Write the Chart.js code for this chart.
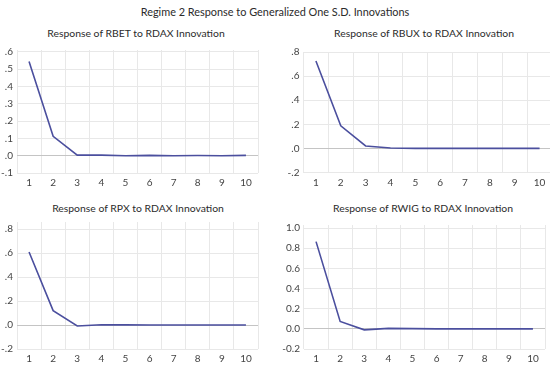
<!DOCTYPE html>
<html>
<head>
<meta charset="utf-8">
<script src="https://cdn.jsdelivr.net/npm/chart.js@4.4.0/dist/chart.umd.min.js"></script>
<style>
  body { margin: 0; background: #fff; width: 550px; height: 370px; overflow: hidden; position: relative; font-family: Lato, sans-serif; color: #2b2b2b; }
  .titulo { position: absolute; white-space: nowrap; transform: translate(-50%, -50%); }
  #mainTitle { left: 275px; top: 11px; font-size: 10.9px; }
  .sub { font-size: 10.4px; }
  .panel { position: absolute; }
</style>
</head>
<body>
<div id="mainTitle" class="titulo">Regime 2 Response to Generalized One S.D. Innovations</div>
<div class="titulo sub" style="left:136px; top:33px;">Response of RBET to RDAX Innovation</div>
<div class="titulo sub" style="left:424px; top:33px;">Response of RBUX to RDAX Innovation</div>
<div class="titulo sub" style="left:138px; top:208px;">Response of RPX to RDAX Innovation</div>
<div class="titulo sub" style="left:423px; top:208px;">Response of RWIG to RDAX Innovation</div>
<div class="panel" style="left:0; top:40px; width:275px; height:150px;"><canvas id="c1"></canvas></div>
<div class="panel" style="left:275px; top:40px; width:280px; height:150px;"><canvas id="c2"></canvas></div>
<div class="panel" style="left:0; top:212px; width:275px; height:154px;"><canvas id="c3"></canvas></div>
<div class="panel" style="left:275px; top:212px; width:275px; height:154px;"><canvas id="c4"></canvas></div>
<script>
// periodos
var periods = ['1', '2', '3', '4', '5', '6', '7', '8', '9', '10'];

// respuestas de cada mercado a la innovacion de RDAX
var rbet = [0.543, 0.112, 0.003, 0.003, 0.000, 0.002, 0.000, 0.001, 0.000, 0.002];
var rbux = [0.725, 0.188, 0.020, 0.003, 0.000, 0.000, 0.000, 0.000, 0.000, 0.000];
var rpx  = [0.610, 0.120, -0.008, 0.003, 0.001, 0.000, 0.000, 0.000, 0.000, 0.000];
var rwig = [0.865, 0.073, -0.010, 0.005, 0.002, 0.000, 0.000, 0.000, 0.000, 0.000];

// marcas del eje y de cada panel
var ticksRbet = [-0.1, 0.0, 0.1, 0.2, 0.3, 0.4, 0.5, 0.6];
var ticksRbux = [-0.2, 0.0, 0.2, 0.4, 0.6, 0.8];
var ticksRpx  = [-0.2, 0.0, 0.2, 0.4, 0.6, 0.8];
var ticksRwig = [-0.2, 0.0, 0.2, 0.4, 0.6, 0.8, 1.0];

var lineColor = '#4b4f9e';

// ".6", "-.1" estilo EViews
function shortTick(v) {
    var n = Math.round(Math.abs(v) * 10);
    return (v < -1e-9 ? '-' : '') + '.' + n;
}
function oneDecimal(v) {
    return v.toFixed(1);
}

// caja: padding del grafico, ancho del eje y, alto del eje x
function crearPanel(id, valores, marcas, min, max, fmt, caja) {
    var ctx = document.getElementById(id).getContext('2d');
    return new Chart(ctx, {
        type: 'line',
        data: {
            labels: periods,
            datasets: [{
                data: valores,
                borderColor: lineColor,
                borderWidth: 1.6,
                pointRadius: 0,
                tension: 0,
                fill: false
            }]
        },
        options: {
            responsive: true,
            maintainAspectRatio: false,
            animation: false,
            layout: { padding: caja.pad },
            plugins: {
                legend: { display: false },
                tooltip: { enabled: false }
            },
            scales: {
                x: {
                    offset: true,
                    border: { display: false },
                    afterFit: function (scale) { scale.height = caja.xh; },
                    grid: { color: '#e8e8e8', offset: true, drawTicks: false },
                    ticks: { color: '#444', font: { family: 'Lato', size: 10 }, padding: 4, maxRotation: 0, autoSkip: false }
                },
                y: {
                    min: min,
                    max: max,
                    border: { display: false },
                    afterFit: function (scale) { scale.width = caja.yw; },
                    afterBuildTicks: function (scale) {
                        scale.ticks = marcas.map(function (v) { return { value: v }; });
                    },
                    grid: {
                        drawTicks: false,
                        color: function (c) {
                            return (c.tick && Math.abs(c.tick.value) < 1e-9) ? '#c4c4c4' : '#e8e8e8';
                        }
                    },
                    ticks: {
                        color: '#444',
                        font: { family: 'Lato', size: 10 },
                        padding: 4,
                        callback: function (v) { return fmt(v); }
                    }
                }
            }
        }
    });
}

crearPanel('c1', rbet, ticksRbet, -0.1, 0.61, shortTick, { pad: { left: 0, right: 17, top: 10, bottom: 0 }, yw: 17, xh: 17 });
crearPanel('c2', rbux, ticksRbux, -0.2, 0.8, shortTick, { pad: { left: 0, right: 3, top: 12, bottom: 0 }, yw: 28.5, xh: 17.5 });
crearPanel('c3', rpx, ticksRpx, -0.2, 0.86, shortTick, { pad: { left: 0, right: 17, top: 10, bottom: 0 }, yw: 17, xh: 17 });
crearPanel('c4', rwig, ticksRwig, -0.2, 1.03, oneDecimal, { pad: { left: 0, right: 5, top: 13, bottom: 0 }, yw: 29, xh: 17 });
</script>
</body>
</html>
